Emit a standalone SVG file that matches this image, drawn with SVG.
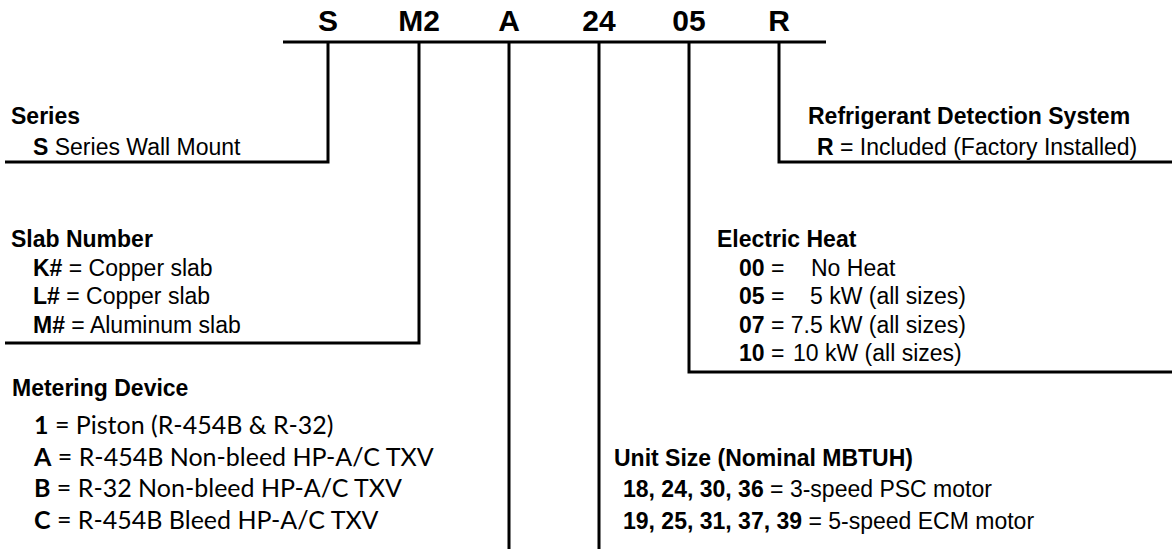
<svg xmlns="http://www.w3.org/2000/svg" width="1176" height="549" viewBox="0 0 1176 549">
<style>
text{font-family:"Liberation Sans",Arial,sans-serif;fill:#000;font-size:23px}
.code{font-weight:bold;font-size:30px;text-anchor:middle}
.h{font-weight:bold}
.b{font-weight:bold}
.cal{font-family:Lato,"Open Sans",sans-serif;font-size:25px}
.ln{stroke:#000;stroke-width:3;fill:none}
</style>
<rect width="1176" height="549" fill="#fff"/>
<g id="codes">
<text class="code" x="328" y="31">S</text>
<text class="code" x="419" y="31">M2</text>
<text class="code" x="509" y="31">A</text>
<text class="code" x="599" y="31">24</text>
<text class="code" x="689" y="31">05</text>
<text class="code" x="779" y="31">R</text>
</g>
<g id="connectors">
<path class="ln" d="M283 42H826"/>
<path class="ln" d="M328 42V162H5"/>
<path class="ln" d="M419 42V343H5"/>
<path class="ln" d="M509 42V549"/>
<path class="ln" d="M599 42V549"/>
<path class="ln" d="M689 42V372H1172"/>
<path class="ln" d="M779 42V162H1172"/>
</g>
<g id="series">
<text class="h" x="11" y="124">Series</text>
<text x="33" y="155"><tspan class="b">S</tspan> Series Wall Mount</text>
</g>
<g id="slab">
<text class="h" x="11" y="247">Slab Number</text>
<text x="33" y="276"><tspan class="b">K#</tspan> = Copper slab</text>
<text x="33" y="304"><tspan class="b">L#</tspan> = Copper slab</text>
<text x="33" y="333"><tspan class="b">M#</tspan> = Aluminum slab</text>
</g>
<g id="metering">
<text class="h" x="12" y="396">Metering Device</text>
<text class="cal" x="34" y="434"><tspan class="b">1</tspan> = Piston (R-454B &amp; R-32)</text>
<text class="cal" x="34" y="465.5"><tspan class="b">A</tspan> = R-454B Non-bleed HP-A/C TXV</text>
<text class="cal" x="34" y="497"><tspan class="b">B</tspan> = R-32 Non-bleed HP-A/C TXV</text>
<text class="cal" x="34" y="528.5"><tspan class="b">C</tspan> = R-454B Bleed HP-A/C TXV</text>
</g>
<g id="refrigerant">
<text class="h" x="808" y="124">Refrigerant Detection System</text>
<text x="817" y="155"><tspan class="b">R</tspan> = Included (Factory Installed)</text>
</g>
<g id="heat">
<text class="h" x="717" y="247">Electric Heat</text>
<text x="739" y="276"><tspan class="b">00</tspan> =<tspan x="811">No Heat</tspan></text>
<text x="739" y="304"><tspan class="b">05</tspan> =<tspan x="810">5 kW (all sizes)</tspan></text>
<text x="739" y="333"><tspan class="b">07</tspan> = 7.5 kW (all sizes)</text>
<text x="739" y="361"><tspan class="b">10</tspan> =<tspan x="793">10 kW (all sizes)</tspan></text>
</g>
<g id="unitsize">
<text class="h" x="614" y="465.5">Unit Size (Nominal MBTUH)</text>
<text x="623" y="497"><tspan class="b">18, 24, 30, 36</tspan> = 3-speed PSC motor</text>
<text x="623" y="528.5"><tspan class="b">19, 25, 31, 37, 39</tspan> = 5-speed ECM motor</text>
</g>
</svg>
